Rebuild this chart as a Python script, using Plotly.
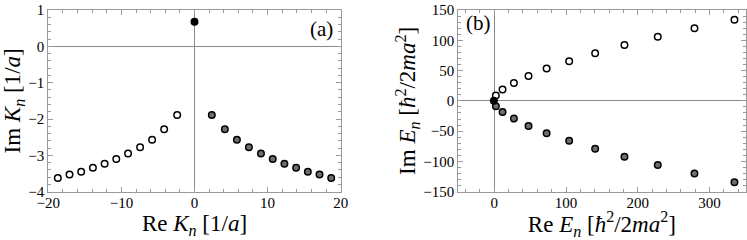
import plotly.graph_objects as go

# ---- data ----
reK_open = [-2.37, -4.15, -5.80, -7.44, -9.09, -10.7, -12.3, -13.9, -15.5, -17.1, -18.7]
imK_open = [-1.89, -2.28, -2.57, -2.78, -2.95, -3.10, -3.23, -3.34, -3.45, -3.53, -3.62]
reK_gray = [2.37, 4.15, 5.80, 7.44, 9.09, 10.7, 12.3, 13.9, 15.5, 17.1, 18.7]
imK_gray = [-1.89, -2.28, -2.57, -2.78, -2.95, -3.10, -3.23, -3.34, -3.45, -3.53, -3.62]
reK_bound = [0.0]
imK_bound = [0.68]

reE_open = [2.3, 11.6, 27.4, 47.8, 73.0, 104.4, 140.6, 181.4, 227.8, 278.9, 334.6]
imE_open = [8.9, 18.8, 29.5, 41.2, 53.3, 65.5, 78.5, 92.2, 106.0, 120.0, 134.0]
reE_gray = [2.3, 11.6, 27.4, 47.8, 73.0, 104.4, 140.6, 181.4, 227.8, 278.9, 334.6]
imE_gray = [-8.9, -18.5, -29.3, -41.5, -53.3, -66.0, -79.0, -92.5, -106.0, -120.0, -134.5]
reE_bound = [-0.45]
imE_bound = [0.0]

xticks_a = [-20, -10, 0, 10, 20]
yticks_a = [1, 0, -1, -2, -3, -4]
xticks_b = [0, 100, 200, 300]
yticks_b = [150, 100, 50, 0, -50, -100, -150]

FONT = "Liberation Serif"
FRAME = "#9a9a9a"
MS = 6.5
LW = 1.5

def marker(fill):
    return dict(size=MS, color=fill, line=dict(color="black", width=LW))

fig = go.Figure()
# panel (a)
fig.add_trace(go.Scatter(x=reK_open, y=imK_open, mode="markers", marker=marker("white"),
                         xaxis="x", yaxis="y", showlegend=False))
fig.add_trace(go.Scatter(x=reK_gray, y=imK_gray, mode="markers", marker=marker("#6e6e6e"),
                         xaxis="x", yaxis="y", showlegend=False))
fig.add_trace(go.Scatter(x=reK_bound, y=imK_bound, mode="markers", marker=marker("black"),
                         xaxis="x", yaxis="y", showlegend=False))
# panel (b)
fig.add_trace(go.Scatter(x=reE_open, y=imE_open, mode="markers", marker=marker("white"),
                         xaxis="x2", yaxis="y2", showlegend=False))
fig.add_trace(go.Scatter(x=reE_gray, y=imE_gray, mode="markers", marker=marker("#6e6e6e"),
                         xaxis="x2", yaxis="y2", showlegend=False))
fig.add_trace(go.Scatter(x=reE_bound, y=imE_bound, mode="markers", marker=marker("black"),
                         xaxis="x2", yaxis="y2", showlegend=False))

def ax(domain, rng, tickvals, minor_dtick, title, anchor, standoff, lblstand):
    return dict(
        domain=domain, range=rng, anchor=anchor, automargin=False,
        tickmode="array", tickvals=tickvals,
        ticks="inside", ticklen=5, tickwidth=1, tickcolor=FRAME,
        minor=dict(ticks="inside", ticklen=2.5, tickwidth=1, tickcolor=FRAME, dtick=minor_dtick,
                   showgrid=False),
        showline=True, linecolor=FRAME, linewidth=1, mirror="allticks",
        showgrid=False, zeroline=True, zerolinecolor="#8a8a8a", zerolinewidth=1,
        tickfont=dict(family=FONT, size=15, color="black"), ticklabelstandoff=lblstand,
        title=dict(text=title, font=dict(family=FONT, size=23, color="black"), standoff=standoff),
        fixedrange=True,
    )

ydom = [1 - 191.7 / 240, 1 - 10 / 240]
fig.update_layout(
    width=747, height=240,
    margin=dict(l=0, r=0, t=0, b=0),
    paper_bgcolor="white", plot_bgcolor="white",
    xaxis=ax([48.3 / 747, 340.7 / 747], [-20, 20], xticks_a, 2,
             "Re <i>K<sub>n</sub></i> [1/<i>a</i>]", "y", 0, -3),
    yaxis=ax(ydom, [-4, 1], yticks_a, 0.2,
             "Im <i>K<sub>n</sub></i> [1/<i>a</i>]", "x", 0, 0),
    xaxis2=ax([458.3 / 747, 745.5 / 747], [-50, 350], xticks_b, 20,
              "Re <i>E<sub>n</sub></i> [<i>ħ</i><sup>2</sup>/2<i>ma</i><sup>2</sup>]", "y2", 0, -3),
    yaxis2=ax(ydom, [-150, 150], yticks_b, 10,
              "Im <i>E<sub>n</sub></i> [<i>ħ</i><sup>2</sup>/2<i>ma</i><sup>2</sup>]", "x2", 0, 0),
    annotations=[
        dict(text="(a)", x=321 / 747, y=1 - 29 / 240, xref="paper", yref="paper",
             showarrow=False, font=dict(family=FONT, size=21, color="black"),
             xanchor="center", yanchor="middle"),
        dict(text="(b)", x=478 / 747, y=1 - 23 / 240, xref="paper", yref="paper",
             showarrow=False, font=dict(family=FONT, size=21, color="black"),
             xanchor="center", yanchor="middle"),
    ],
)

fig.write_html("out.html", config={"displayModeBar": False},
               post_script="document.body.style.margin='0';document.body.style.overflow='hidden';")
